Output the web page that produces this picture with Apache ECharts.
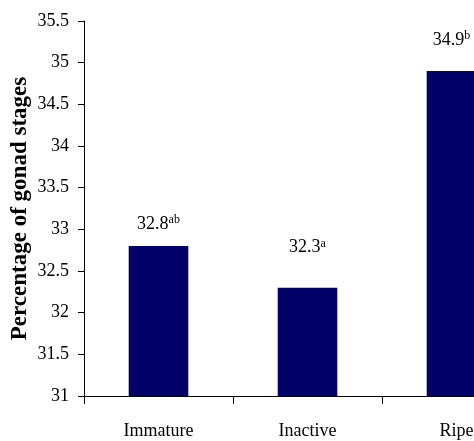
<!DOCTYPE html>
<html>
<head>
<meta charset="utf-8">
<script src="https://cdn.jsdelivr.net/npm/echarts@6/dist/echarts.min.js"></script>
<style>
  html, body { margin: 0; padding: 0; background: #fff; }
  #container { width: 474px; height: 441px; }
</style>
</head>
<body>
<div id="container"></div>
<script>
const categories = ['Immature', 'Inactive', 'Ripe'];
const values = [32.8, 32.3, 34.9];
const letters = ['ab', 'a', 'b'];
// how far each value label sits above its bar, as in the source figure
const labelGaps = [12, 30, 21];
const labelShift = [0, 0, -5];

const FONT = 'Liberation Serif';

let myChart = echarts.init(document.getElementById('container'));

let option = {
    animation: false,
    grid: {
        left: 84,
        top: 21,
        width: 447,
        height: 375,
        outerBoundsMode: 'none',
        containLabel: false
    },
    xAxis: {
        type: 'category',
        data: categories,
        axisLine: { lineStyle: { color: '#000', width: 1 } },
        axisTick: { show: true, length: 8, lineStyle: { color: '#000' } },
        axisLabel: {
            color: '#000',
            fontSize: 18,
            fontFamily: FONT,
            margin: 26
        }
    },
    yAxis: {
        type: 'value',
        min: 31,
        max: 35.5,
        interval: 0.5,
        name: 'Percentage of gonad stages',
        nameLocation: 'middle',
        nameGap: 52,
        nameMoveOverlap: false,
        nameTextStyle: {
            color: '#000',
            fontSize: 23,
            fontWeight: 'bold',
            fontFamily: FONT
        },
        splitLine: { show: false },
        axisLine: { show: true, lineStyle: { color: '#000', width: 1 } },
        axisTick: { show: true, length: 6, lineStyle: { color: '#000' } },
        axisLabel: {
            color: '#000',
            fontSize: 18,
            fontFamily: FONT,
            margin: 15
        }
    },
    series: [
        {
            type: 'bar',
            data: values.map((v, i) => ({
                value: v,
                label: {
                    distance: labelGaps[i],
                    offset: [labelShift[i], 0],
                    formatter: '{v|' + v.toFixed(1) + '}{s|' + letters[i] + '}'
                }
            })),
            barWidth: '40%',
            itemStyle: { color: '#000066' },
            label: {
                show: true,
                position: 'top',
                rich: {
                    v: { fontSize: 18, color: '#000', fontFamily: FONT },
                    s: { fontSize: 12, color: '#000', fontFamily: FONT, verticalAlign: 'top', padding: [0, 0, 8, 0] }
                }
            }
        }
    ]
};
myChart.setOption(option);
</script>
</body>
</html>
